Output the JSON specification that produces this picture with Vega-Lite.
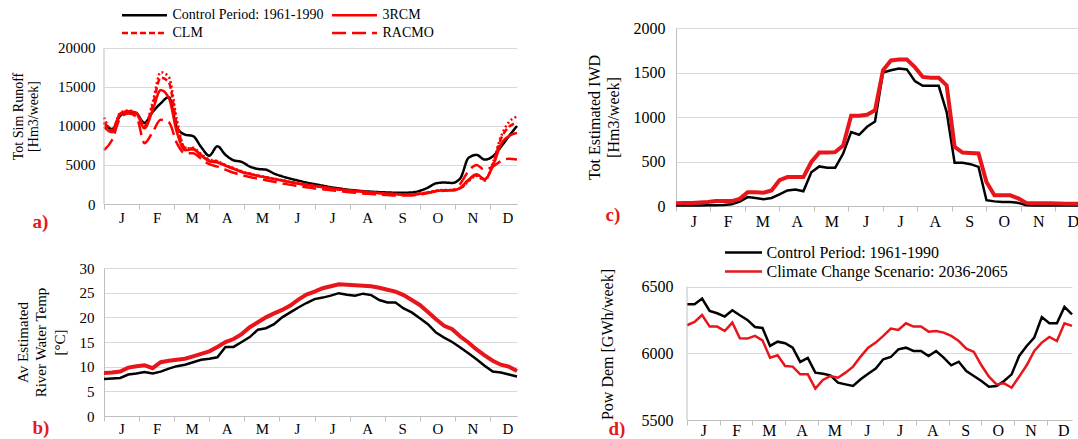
{
  "$schema": "https://vega.github.io/schema/vega-lite/v6.json",
  "autosize": {"type": "pad"},
  "padding": {"left": 11, "top": 4, "right": 0, "bottom": 0},
  "background": "white",
  "config": {
    "font": "Liberation Serif",
    "view": {"stroke": null},
    "axis": {"labelColor": "#000000", "titleColor": "#000000", "titleFontWeight": "normal", "gridColor": "#d9d9d9", "domainColor": "#bfbfbf", "tickColor": "#bfbfbf"},
    "axisX": {"labelOverlap": false, "labelFlush": false},
    "legend": {"labelColor": "#000000", "labelLimit": 400}
  },
  "resolve": {
    "scale": {"color": "independent", "strokeDash": "independent", "strokeWidth": "independent"},
    "legend": {"color": "independent", "strokeDash": "independent", "strokeWidth": "independent"}
  },
  "datasets": {
    "runoff": [
      {"w":1,"ctl":10400,"rcm3":9900,"clm":10500,"remo":11100,"racmo":6900},
      {"w":2,"ctl":9600,"rcm3":9200,"clm":9400,"remo":9500,"racmo":8200},
      {"w":3,"ctl":11300,"rcm3":11500,"clm":11600,"remo":11700,"racmo":11000},
      {"w":4,"ctl":11800,"rcm3":11900,"clm":11900,"remo":12000,"racmo":11600},
      {"w":5,"ctl":11600,"rcm3":11600,"clm":11700,"remo":11600,"racmo":11200},
      {"w":6,"ctl":10400,"rcm3":9700,"clm":10000,"remo":9900,"racmo":7800},
      {"w":7,"ctl":11800,"rcm3":12000,"clm":12600,"remo":13000,"racmo":9200},
      {"w":8,"ctl":12900,"rcm3":14600,"clm":16200,"remo":16900,"racmo":10800},
      {"w":9,"ctl":13700,"rcm3":13600,"clm":15600,"remo":16300,"racmo":10500},
      {"w":10,"ctl":9800,"rcm3":9200,"clm":10200,"remo":10800,"racmo":7800},
      {"w":11,"ctl":8900,"rcm3":6900,"clm":7200,"remo":7100,"racmo":6500},
      {"w":12,"ctl":8700,"rcm3":7000,"clm":7100,"remo":7200,"racmo":6500},
      {"w":13,"ctl":7300,"rcm3":6200,"clm":6300,"remo":6400,"racmo":5800},
      {"w":14,"ctl":6200,"rcm3":5500,"clm":5600,"remo":5700,"racmo":5100},
      {"w":15,"ctl":7400,"rcm3":5300,"clm":5450,"remo":5500,"racmo":4800},
      {"w":16,"ctl":6300,"rcm3":4900,"clm":4950,"remo":5000,"racmo":4400},
      {"w":17,"ctl":5600,"rcm3":4500,"clm":4550,"remo":4600,"racmo":4000},
      {"w":18,"ctl":5400,"rcm3":4100,"clm":4150,"remo":4200,"racmo":3700},
      {"w":19,"ctl":4800,"rcm3":3850,"clm":3880,"remo":3900,"racmo":3450},
      {"w":20,"ctl":4500,"rcm3":3600,"clm":3620,"remo":3650,"racmo":3250},
      {"w":21,"ctl":4400,"rcm3":3400,"clm":3420,"remo":3450,"racmo":3050},
      {"w":22,"ctl":3900,"rcm3":3200,"clm":3220,"remo":3250,"racmo":2850},
      {"w":23,"ctl":3550,"rcm3":3000,"clm":3020,"remo":3050,"racmo":2650},
      {"w":24,"ctl":3250,"rcm3":2800,"clm":2820,"remo":2850,"racmo":2450},
      {"w":25,"ctl":3000,"rcm3":2600,"clm":2620,"remo":2650,"racmo":2300},
      {"w":26,"ctl":2750,"rcm3":2450,"clm":2470,"remo":2500,"racmo":2150},
      {"w":27,"ctl":2550,"rcm3":2300,"clm":2320,"remo":2350,"racmo":2000},
      {"w":28,"ctl":2350,"rcm3":2150,"clm":2170,"remo":2200,"racmo":1900},
      {"w":29,"ctl":2150,"rcm3":2000,"clm":2020,"remo":2050,"racmo":1750},
      {"w":30,"ctl":2000,"rcm3":1850,"clm":1870,"remo":1900,"racmo":1650},
      {"w":31,"ctl":1850,"rcm3":1750,"clm":1770,"remo":1800,"racmo":1550},
      {"w":32,"ctl":1750,"rcm3":1650,"clm":1670,"remo":1700,"racmo":1450},
      {"w":33,"ctl":1650,"rcm3":1550,"clm":1570,"remo":1600,"racmo":1350},
      {"w":34,"ctl":1580,"rcm3":1450,"clm":1470,"remo":1500,"racmo":1280},
      {"w":35,"ctl":1520,"rcm3":1380,"clm":1400,"remo":1420,"racmo":1200},
      {"w":36,"ctl":1480,"rcm3":1300,"clm":1320,"remo":1350,"racmo":1150},
      {"w":37,"ctl":1450,"rcm3":1250,"clm":1270,"remo":1300,"racmo":1100},
      {"w":38,"ctl":1450,"rcm3":1200,"clm":1220,"remo":1250,"racmo":1080},
      {"w":39,"ctl":1480,"rcm3":1200,"clm":1220,"remo":1250,"racmo":1100},
      {"w":40,"ctl":1700,"rcm3":1300,"clm":1320,"remo":1350,"racmo":1200},
      {"w":41,"ctl":2100,"rcm3":1450,"clm":1470,"remo":1500,"racmo":1400},
      {"w":42,"ctl":2650,"rcm3":1650,"clm":1670,"remo":1700,"racmo":1600},
      {"w":43,"ctl":2750,"rcm3":1750,"clm":1770,"remo":1800,"racmo":1700},
      {"w":44,"ctl":2700,"rcm3":1750,"clm":1770,"remo":1800,"racmo":1800},
      {"w":45,"ctl":3300,"rcm3":2100,"clm":2000,"remo":2000,"racmo":2600},
      {"w":46,"ctl":5900,"rcm3":3100,"clm":3000,"remo":2900,"racmo":4200},
      {"w":47,"ctl":6300,"rcm3":3800,"clm":3700,"remo":3600,"racmo":5000},
      {"w":48,"ctl":5700,"rcm3":3200,"clm":3100,"remo":3000,"racmo":4400},
      {"w":49,"ctl":6100,"rcm3":4800,"clm":5000,"remo":5200,"racmo":4800},
      {"w":50,"ctl":7300,"rcm3":7600,"clm":8300,"remo":8600,"racmo":5500},
      {"w":51,"ctl":8700,"rcm3":8700,"clm":9900,"remo":10500,"racmo":5800},
      {"w":52,"ctl":10000,"rcm3":9100,"clm":10400,"remo":11200,"racmo":5700}
    ],
    "temp": [
      {"w":1,"ctl":7.5,"scen":8.7},{"w":2,"ctl":7.6,"scen":8.8},{"w":3,"ctl":7.7,"scen":9.0},{"w":4,"ctl":8.4,"scen":9.8},
      {"w":5,"ctl":8.6,"scen":10.1},{"w":6,"ctl":8.9,"scen":10.3},{"w":7,"ctl":8.6,"scen":9.7},{"w":8,"ctl":9.0,"scen":10.9},
      {"w":9,"ctl":9.6,"scen":11.2},{"w":10,"ctl":10.1,"scen":11.4},{"w":11,"ctl":10.4,"scen":11.6},{"w":12,"ctl":10.9,"scen":12.1},
      {"w":13,"ctl":11.4,"scen":12.6},{"w":14,"ctl":11.6,"scen":13.1},{"w":15,"ctl":11.9,"scen":14.0},{"w":16,"ctl":14.0,"scen":15.0},
      {"w":17,"ctl":14.0,"scen":15.6},{"w":18,"ctl":15.0,"scen":16.6},{"w":19,"ctl":16.0,"scen":18.0},{"w":20,"ctl":17.5,"scen":19.0},
      {"w":21,"ctl":17.8,"scen":20.0},{"w":22,"ctl":18.6,"scen":20.8},{"w":23,"ctl":20.0,"scen":21.5},{"w":24,"ctl":21.0,"scen":22.4},
      {"w":25,"ctl":22.0,"scen":23.6},{"w":26,"ctl":22.9,"scen":24.6},{"w":27,"ctl":23.7,"scen":25.2},{"w":28,"ctl":24.0,"scen":25.9},
      {"w":29,"ctl":24.4,"scen":26.3},{"w":30,"ctl":24.9,"scen":26.7},{"w":31,"ctl":24.6,"scen":26.6},{"w":32,"ctl":24.4,"scen":26.5},
      {"w":33,"ctl":24.8,"scen":26.4},{"w":34,"ctl":24.5,"scen":26.3},{"w":35,"ctl":23.5,"scen":26.0},{"w":36,"ctl":23.0,"scen":25.6},
      {"w":37,"ctl":23.0,"scen":25.2},{"w":38,"ctl":21.8,"scen":24.5},{"w":39,"ctl":21.0,"scen":23.5},{"w":40,"ctl":19.8,"scen":22.5},
      {"w":41,"ctl":18.6,"scen":21.1},{"w":42,"ctl":16.9,"scen":19.6},{"w":43,"ctl":15.9,"scen":18.3},{"w":44,"ctl":15.0,"scen":17.6},
      {"w":45,"ctl":13.9,"scen":16.1},{"w":46,"ctl":12.7,"scen":14.9},{"w":47,"ctl":11.5,"scen":13.5},{"w":48,"ctl":10.2,"scen":12.3},
      {"w":49,"ctl":9.0,"scen":11.2},{"w":50,"ctl":8.8,"scen":10.4},{"w":51,"ctl":8.4,"scen":10.0},{"w":52,"ctl":8.0,"scen":9.1}
    ],
    "iwd": [
      {"w":1,"ctl":5,"scen":30},{"w":2,"ctl":5,"scen":35},{"w":3,"ctl":5,"scen":35},{"w":4,"ctl":5,"scen":40},
      {"w":5,"ctl":8,"scen":45},{"w":6,"ctl":8,"scen":55},{"w":7,"ctl":10,"scen":55},{"w":8,"ctl":20,"scen":55},
      {"w":9,"ctl":50,"scen":80},{"w":10,"ctl":100,"scen":155},{"w":11,"ctl":90,"scen":155},{"w":12,"ctl":75,"scen":150},
      {"w":13,"ctl":90,"scen":175},{"w":14,"ctl":130,"scen":290},{"w":15,"ctl":175,"scen":325},{"w":16,"ctl":185,"scen":325},
      {"w":17,"ctl":165,"scen":325},{"w":18,"ctl":380,"scen":495},{"w":19,"ctl":445,"scen":600},{"w":20,"ctl":430,"scen":600},
      {"w":21,"ctl":430,"scen":605},{"w":22,"ctl":590,"scen":680},{"w":23,"ctl":830,"scen":1015},{"w":24,"ctl":800,"scen":1015},
      {"w":25,"ctl":890,"scen":1025},{"w":26,"ctl":950,"scen":1075},{"w":27,"ctl":1500,"scen":1525},{"w":28,"ctl":1525,"scen":1635},
      {"w":29,"ctl":1545,"scen":1645},{"w":30,"ctl":1535,"scen":1645},{"w":31,"ctl":1405,"scen":1560},{"w":32,"ctl":1350,"scen":1450},
      {"w":33,"ctl":1350,"scen":1440},{"w":34,"ctl":1350,"scen":1440},{"w":35,"ctl":1055,"scen":1355},{"w":36,"ctl":485,"scen":665},
      {"w":37,"ctl":485,"scen":600},{"w":38,"ctl":470,"scen":595},{"w":39,"ctl":440,"scen":590},{"w":40,"ctl":65,"scen":270},
      {"w":41,"ctl":52,"scen":120},{"w":42,"ctl":45,"scen":120},{"w":43,"ctl":45,"scen":120},{"w":44,"ctl":35,"scen":85},
      {"w":45,"ctl":8,"scen":35},{"w":46,"ctl":5,"scen":30},{"w":47,"ctl":5,"scen":30},{"w":48,"ctl":5,"scen":30},
      {"w":49,"ctl":5,"scen":28},{"w":50,"ctl":5,"scen":25},{"w":51,"ctl":5,"scen":25},{"w":52,"ctl":5,"scen":25}
    ],
    "pow": [
      {"w":1,"ctl":6367,"scen":6210},{"w":2,"ctl":6367,"scen":6235},{"w":3,"ctl":6410,"scen":6287},{"w":4,"ctl":6317,"scen":6200},
      {"w":5,"ctl":6300,"scen":6200},{"w":6,"ctl":6275,"scen":6167},{"w":7,"ctl":6322,"scen":6230},{"w":8,"ctl":6285,"scen":6112},
      {"w":9,"ctl":6250,"scen":6110},{"w":10,"ctl":6197,"scen":6130},{"w":11,"ctl":6190,"scen":6097},{"w":12,"ctl":6055,"scen":5967},
      {"w":13,"ctl":6087,"scen":5985},{"w":14,"ctl":6075,"scen":5905},{"w":15,"ctl":6042,"scen":5900},{"w":16,"ctl":5935,"scen":5842},
      {"w":17,"ctl":5965,"scen":5842},{"w":18,"ctl":5855,"scen":5735},{"w":19,"ctl":5847,"scen":5800},{"w":20,"ctl":5835,"scen":5830},
      {"w":21,"ctl":5780,"scen":5817},{"w":22,"ctl":5767,"scen":5855},{"w":23,"ctl":5755,"scen":5900},{"w":24,"ctl":5805,"scen":5975},
      {"w":25,"ctl":5847,"scen":6042},{"w":26,"ctl":5885,"scen":6080},{"w":27,"ctl":5955,"scen":6130},{"w":28,"ctl":5972,"scen":6185},
      {"w":29,"ctl":6030,"scen":6175},{"w":30,"ctl":6042,"scen":6225},{"w":31,"ctl":6017,"scen":6200},{"w":32,"ctl":6017,"scen":6200},
      {"w":33,"ctl":5980,"scen":6162},{"w":34,"ctl":6017,"scen":6167},{"w":35,"ctl":5967,"scen":6155},{"w":36,"ctl":5910,"scen":6130},
      {"w":37,"ctl":5937,"scen":6092},{"w":38,"ctl":5867,"scen":6035},{"w":39,"ctl":5830,"scen":6010},{"w":40,"ctl":5792,"scen":5910},
      {"w":41,"ctl":5750,"scen":5825},{"w":42,"ctl":5755,"scen":5767},{"w":43,"ctl":5792,"scen":5775},{"w":44,"ctl":5842,"scen":5742},
      {"w":45,"ctl":5980,"scen":5825},{"w":46,"ctl":6055,"scen":5910},{"w":47,"ctl":6117,"scen":6017},{"w":48,"ctl":6272,"scen":6080},
      {"w":49,"ctl":6225,"scen":6122},{"w":50,"ctl":6225,"scen":6092},{"w":51,"ctl":6347,"scen":6225},{"w":52,"ctl":6292,"scen":6205}
    ]
  },
  "spacing": 11,
  "vconcat": [
    {
      "spacing": 64,
      "resolve": {
        "scale": {"color": "independent", "strokeDash": "independent", "strokeWidth": "independent"},
        "legend": {"color": "independent", "strokeDash": "independent", "strokeWidth": "independent"}
      },
      "hconcat": [
        {
          "width": 413,
          "height": 176,
          "data": {"name": "runoff"},
          "layer": [
            {
              "transform": [{"fold": ["ctl", "clm", "rcm3", "racmo"], "as": ["series", "value"]}],
              "mark": {"type": "line", "interpolate": "monotone", "strokeWidth": 2.5},
              "encoding": {
                "x": {"field": "w", "type": "quantitative", "scale": {"domain": [1, 52], "nice": false, "zero": false},
                  "axis": {"values": [1, 5.3333, 9.6667, 14, 18.3333, 22.6667, 27, 31.3333, 35.6667, 40, 44.3333, 48.6667],
                    "labelExpr": "['J','F','M','A','M','J','J','A','S','O','N','D'][round((datum.value-1)*12/52)]",
                    "grid": false, "tickSize": 5, "labelFlush": false, "labelOverlap": false, "labelOffset": 17.5, "labelPadding": 1, "labelFontSize": 15,
                    "title": "a)", "titleX": -72, "titleY": 17, "titleAlign": "left", "titleBaseline": "middle", "titleColor": "#e31a1c", "titleFontWeight": "bold", "titleFontSize": 19, "titleAngle": 0}},
                "y": {"field": "value", "type": "quantitative", "scale": {"domain": [0, 22564], "nice": false},
                  "axis": {"values": [0, 5000, 10000, 15000, 20000], "format": "d", "grid": true, "domain": false, "ticks": false, "labelPadding": 9, "labelFontSize": 15,
                    "title": ["Tot Sim Runoff", "[Hm3/week]"], "titleFontSize": 14, "titleLineHeight": 15, "titlePadding": 17}},
                "color": {"field": "series", "type": "nominal", "scale": {"domain": ["ctl", "clm", "rcm3", "racmo"], "range": ["#000000", "#ff0000", "#ff0000", "#ff0000"]},
                  "legend": {"orient": "none", "legendX": 30, "legendY": -23.5, "columns": 2, "columnPadding": 3, "rowPadding": 0, "title": null, "symbolType": "M-2.5,0H2.5", "symbolSize": 324, "symbolStrokeWidth": 2.5, "labelFontSize": 14, "labelOffset": 17.5,
                    "labelExpr": "datum.label == 'ctl' ? 'Control Period: 1961-1990' : datum.label == 'rcm3' ? '3RCM' : datum.label == 'clm' ? 'CLM' : 'RACMO'"}},
                "strokeDash": {"field": "series", "type": "nominal", "scale": {"domain": ["ctl", "clm", "rcm3", "racmo"], "range": [[1, 0], [6, 3], [1, 0], [14, 6]]},
                  "legend": {"orient": "none", "legendX": 30, "legendY": -23.5, "columns": 2, "columnPadding": 3, "rowPadding": 0, "title": null, "symbolType": "M-2.5,0H2.5", "symbolSize": 324, "symbolStrokeWidth": 2.5, "labelFontSize": 14, "labelOffset": 17.5,
                    "labelExpr": "datum.label == 'ctl' ? 'Control Period: 1961-1990' : datum.label == 'rcm3' ? '3RCM' : datum.label == 'clm' ? 'CLM' : 'RACMO'"}}
              }
            },
            {
              "mark": {"type": "line", "interpolate": "monotone", "strokeWidth": 2.5, "color": "#ff0000", "strokeDash": [2, 2.5]},
              "encoding": {
                "x": {"field": "w", "type": "quantitative", "scale": {"domain": [1, 52], "nice": false, "zero": false},
                  "axis": {"values": [1, 5.3333, 9.6667, 14, 18.3333, 22.6667, 27, 31.3333, 35.6667, 40, 44.3333, 48.6667],
                    "labelExpr": "['J','F','M','A','M','J','J','A','S','O','N','D'][round((datum.value-1)*12/52)]",
                    "grid": false, "tickSize": 5, "labelFlush": false, "labelOverlap": false, "labelOffset": 17.5, "labelPadding": 1, "labelFontSize": 15,
                    "title": "a)", "titleX": -72, "titleY": 17, "titleAlign": "left", "titleBaseline": "middle", "titleColor": "#e31a1c", "titleFontWeight": "bold", "titleFontSize": 19, "titleAngle": 0}},
                "y": {"field": "remo", "type": "quantitative", "title": ["Tot Sim Runoff", "[Hm3/week]"]}
              }
            },
            {
              "data": {"values": [{}]},
              "mark": {"type": "rule", "color": "#bfbfbf", "strokeWidth": 1},
              "encoding": {
                "x": {"datum": 1, "type": "quantitative",
                  "axis": {"values": [1, 5.3333, 9.6667, 14, 18.3333, 22.6667, 27, 31.3333, 35.6667, 40, 44.3333, 48.6667],
                    "labelExpr": "['J','F','M','A','M','J','J','A','S','O','N','D'][round((datum.value-1)*12/52)]",
                    "grid": false, "tickSize": 5, "labelFlush": false, "labelOverlap": false, "labelOffset": 17.5, "labelPadding": 1, "labelFontSize": 15,
                    "title": "a)", "titleX": -72, "titleY": 17, "titleAlign": "left", "titleBaseline": "middle", "titleColor": "#e31a1c", "titleFontWeight": "bold", "titleFontSize": 19, "titleAngle": 0}},
                "y": {"datum": 0, "type": "quantitative", "title": ["Tot Sim Runoff", "[Hm3/week]"]},
                "y2": {"datum": 20000}
              }
            }
          ]
        },
        {
          "width": 406,
          "height": 178,
          "data": {"name": "iwd"},
          "transform": [{"fold": ["ctl", "scen"], "as": ["series", "value"]}],
          "mark": {"type": "line"},
          "encoding": {
            "x": {"field": "w", "type": "quantitative", "scale": {"domain": [1, 52], "nice": false, "zero": false},
              "axis": {"values": [1, 5.3333, 9.6667, 14, 18.3333, 22.6667, 27, 31.3333, 35.6667, 40, 44.3333, 48.6667],
                "labelExpr": "['J','F','M','A','M','J','J','A','S','O','N','D'][round((datum.value-1)*12/52)]",
                "grid": false, "tickSize": 5, "labelFlush": false, "labelOverlap": false, "labelOffset": 17.25, "labelPadding": 2, "labelFontSize": 16,
                "title": "c)", "titleX": -71, "titleY": 8, "titleAlign": "left", "titleBaseline": "middle", "titleColor": "#e31a1c", "titleFontWeight": "bold", "titleFontSize": 19, "titleAngle": 0}},
            "y": {"field": "value", "type": "quantitative", "scale": {"domain": [0, 2000], "nice": false},
              "axis": {"values": [0, 500, 1000, 1500, 2000], "format": "d", "grid": true, "domain": true, "ticks": false, "labelPadding": 11, "labelFontSize": 16,
                "title": ["Tot Estimated IWD", "[Hm3/week]"], "titleFontSize": 16, "titleLineHeight": 19, "titlePadding": 12}},
            "color": {"field": "series", "type": "nominal", "scale": {"domain": ["ctl", "scen"], "range": ["#000000", "#e8151b"]}, "legend": null},
            "strokeWidth": {"field": "series", "type": "ordinal", "scale": {"domain": ["ctl", "scen"], "range": [2.5, 4]}, "legend": null}
          }
        }
      ]
    },
    {
      "spacing": 74,
      "resolve": {
        "scale": {"color": "independent", "strokeDash": "independent", "strokeWidth": "independent"},
        "legend": {"color": "independent", "strokeDash": "independent", "strokeWidth": "independent"}
      },
      "hconcat": [
        {
          "width": 413,
          "height": 148,
          "data": {"name": "temp"},
          "transform": [{"fold": ["ctl", "scen"], "as": ["series", "value"]}],
          "mark": {"type": "line"},
          "encoding": {
            "x": {"field": "w", "type": "quantitative", "scale": {"domain": [1, 52], "nice": false, "zero": false},
              "axis": {"values": [1, 5.3333, 9.6667, 14, 18.3333, 22.6667, 27, 31.3333, 35.6667, 40, 44.3333, 48.6667],
                "labelExpr": "['J','F','M','A','M','J','J','A','S','O','N','D'][round((datum.value-1)*12/52)]",
                "grid": false, "tickSize": 5, "labelFlush": false, "labelOverlap": false, "labelOffset": 17.5, "labelPadding": 0, "labelFontSize": 15,
                "title": "b)", "titleX": -72, "titleY": 11, "titleAlign": "left", "titleBaseline": "middle", "titleColor": "#e31a1c", "titleFontWeight": "bold", "titleFontSize": 19, "titleAngle": 0}},
            "y": {"field": "value", "type": "quantitative", "scale": {"domain": [0, 30], "nice": false},
              "axis": {"values": [0, 5, 10, 15, 20, 25, 30], "grid": true, "domain": true, "ticks": false, "labelPadding": 10, "labelFontSize": 15,
                "title": ["Av Estimated", "River Water Temp", "[°C]"], "titleFontSize": 15, "titleLineHeight": 18.5, "titlePadding": 12}},
            "color": {"field": "series", "type": "nominal", "scale": {"domain": ["ctl", "scen"], "range": ["#000000", "#e8151b"]}, "legend": null},
            "strokeWidth": {"field": "series", "type": "ordinal", "scale": {"domain": ["ctl", "scen"], "range": [2.5, 4]}, "legend": null}
          }
        },
        {
          "width": 385,
          "height": 152,
          "data": {"name": "pow"},
          "layer": [
            {
              "transform": [{"fold": ["ctl", "scen"], "as": ["series", "value"]}],
              "mark": {"type": "line", "strokeWidth": 2.5},
              "encoding": {
                "x": {"field": "w", "type": "quantitative", "scale": {"domain": [1, 52], "nice": false, "zero": false},
                  "axis": {"values": [1, 5.3333, 9.6667, 14, 18.3333, 22.6667, 27, 31.3333, 35.6667, 40, 44.3333, 48.6667],
                    "labelExpr": "['J','F','M','A','M','J','J','A','S','O','N','D'][round((datum.value-1)*12/52)]",
                    "grid": false, "tickSize": 5, "labelFlush": false, "labelOverlap": false, "labelOffset": 16.4, "labelPadding": -3, "labelFontSize": 16,
                    "title": "d)", "titleX": -79, "titleY": 8, "titleAlign": "left", "titleBaseline": "middle", "titleColor": "#e31a1c", "titleFontWeight": "bold", "titleFontSize": 19, "titleAngle": 0}},
                "y": {"field": "value", "type": "quantitative", "scale": {"domain": [5500, 6639], "nice": false, "zero": false},
                  "axis": {"values": [5500, 5750, 6000, 6250, 6500], "format": "d", "grid": true, "domain": false, "ticks": false, "labelPadding": 14, "labelFontSize": 16,
                    "title": "Pow Dem [GWh/week]", "titleFontSize": 16, "titlePadding": 26}},
                "color": {"field": "series", "type": "nominal", "scale": {"domain": ["ctl", "scen"], "range": ["#000000", "#e8151b"]},
                  "legend": {"orient": "none", "legendX": 46, "legendY": -26, "title": null, "symbolType": "M-2,0H2", "symbolSize": 342, "symbolStrokeWidth": 2.5, "labelFontSize": 16, "labelOffset": 12.5, "rowPadding": 0,
                    "labelExpr": "datum.label == 'ctl' ? 'Control Period: 1961-1990' : 'Climate Change Scenario: 2036-2065'"}}
              }
            },
            {
              "data": {"values": [{}]},
              "mark": {"type": "rule", "color": "#bfbfbf", "strokeWidth": 1},
              "encoding": {
                "x": {"datum": 1, "type": "quantitative",
                  "axis": {"values": [1, 5.3333, 9.6667, 14, 18.3333, 22.6667, 27, 31.3333, 35.6667, 40, 44.3333, 48.6667],
                    "labelExpr": "['J','F','M','A','M','J','J','A','S','O','N','D'][round((datum.value-1)*12/52)]",
                    "grid": false, "tickSize": 5, "labelFlush": false, "labelOverlap": false, "labelOffset": 16.4, "labelPadding": -3, "labelFontSize": 16,
                    "title": "d)", "titleX": -79, "titleY": 8, "titleAlign": "left", "titleBaseline": "middle", "titleColor": "#e31a1c", "titleFontWeight": "bold", "titleFontSize": 19, "titleAngle": 0}},
                "y": {"datum": 5500, "type": "quantitative", "title": "Pow Dem [GWh/week]"},
                "y2": {"datum": 6500}
              }
            }
          ]
        }
      ]
    }
  ]
}
